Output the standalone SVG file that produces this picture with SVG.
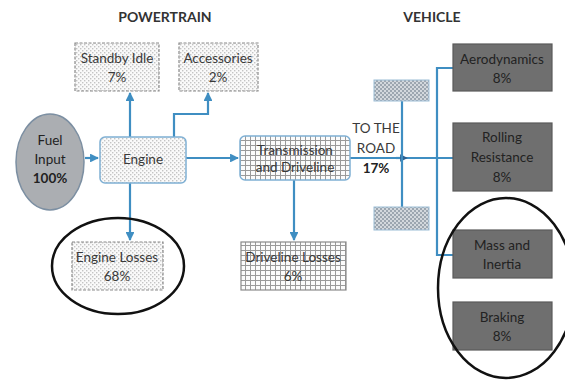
<svg xmlns="http://www.w3.org/2000/svg" width="565" height="380" viewBox="0 0 565 380">
  <style>
    .title { font-family: Lato, "Liberation Sans", sans-serif; font-size: 14px; font-weight: bold; fill: #333; text-anchor: middle; }
    .lbl { font-family: Lato, "Liberation Sans", sans-serif; font-size: 13.5px; fill: #3a3a3a; text-anchor: middle; }
    .dark { font-family: Lato, "Liberation Sans", sans-serif; font-size: 13.5px; fill: #222; text-anchor: middle; }
    .bold { font-weight: bold; }
    .conn { fill: none; stroke: #3f8ec2; stroke-width: 2.2; }
    .dotbox { fill: url(#dots); stroke: #8a8a8a; stroke-width: 1.2; stroke-dasharray: 3 1.5; }
    .gridbox { fill: url(#grid); stroke: #8a8a8a; stroke-width: 1.2; }
    .vehbox { fill: #6f6f6f; stroke: #5a5a5a; stroke-width: 1.2; }
    .brake { fill: url(#brakedots); stroke: #9cbdd6; stroke-width: 1; }
    .ring { fill: none; stroke: #111; stroke-width: 2.5; }
  </style>
  <defs>
    <pattern id="dots" width="4" height="4" patternUnits="userSpaceOnUse">
      <rect width="4" height="4" fill="#fafafa"/>
      <rect x="0" y="0" width="1.4" height="1.4" fill="#c4c4c4"/>
      <rect x="2" y="2" width="1.4" height="1.4" fill="#c4c4c4"/>
    </pattern>
    <pattern id="grid" width="5" height="5" patternUnits="userSpaceOnUse">
      <rect width="5" height="5" fill="#fbfbfb"/>
      <path d="M0 0.5H5M0.5 0V5" stroke="#9a9a9a" stroke-width="1"/>
    </pattern>
    <pattern id="brakedots" width="4" height="4" patternUnits="userSpaceOnUse">
      <rect width="4" height="4" fill="#d3d8dd"/>
      <rect x="0" y="0" width="2" height="2" fill="#9ca6b0"/>
      <rect x="2" y="2" width="2" height="2" fill="#9ca6b0"/>
    </pattern>
    <marker id="arrow" viewBox="0 0 10 10" refX="9" refY="5" markerWidth="4" markerHeight="4" orient="auto" markerUnits="strokeWidth">
      <path d="M0 0L10 5L0 10z" fill="#3f8ec2"/>
    </marker>
    <marker id="arrowDark" viewBox="0 0 10 10" refX="5" refY="5" markerWidth="3.5" markerHeight="3.5" orient="auto" markerUnits="strokeWidth">
      <path d="M0 0L10 5L0 10z" fill="#2d5f8f"/>
    </marker>
  </defs>

  <text class="title" x="165" y="22">POWERTRAIN</text>
  <text class="title" x="432" y="22">VEHICLE</text>

  <g id="connectors">
    <path class="conn" d="M85 158H98" marker-end="url(#arrow)"/>
    <path class="conn" d="M130 137V93" marker-end="url(#arrow)"/>
    <path class="conn" d="M174 137V114H208V93" marker-end="url(#arrow)"/>
    <path class="conn" d="M130 183V240" marker-end="url(#arrow)"/>
    <path class="conn" d="M186 158H238" marker-end="url(#arrow)"/>
    <path class="conn" d="M294 180V240" marker-end="url(#arrow)"/>
    <path class="conn" d="M350 158H453"/>
    <path class="conn" d="M396 158H404" marker-end="url(#arrowDark)"/>
    <path class="conn" d="M402 101V207"/>
    <path class="conn" d="M453 68H437V255H453"/>
  </g>

  <g id="fuel-input">
    <ellipse cx="50" cy="162" rx="34" ry="48" fill="#abaeb2" stroke="#7c8fa2" stroke-width="1.5"/>
    <text class="dark" x="50" y="145">Fuel</text>
    <text class="dark" x="50" y="164">Input</text>
    <text class="dark bold" x="50" y="183">100%</text>
  </g>

  <g id="standby-idle">
    <rect class="dotbox" x="75" y="43" width="84" height="48"/>
    <text class="lbl" x="117" y="63">Standby Idle</text>
    <text class="lbl" x="117" y="82">7%</text>
  </g>

  <g id="accessories">
    <rect class="dotbox" x="179" y="43" width="79" height="48"/>
    <text class="lbl" x="218" y="63">Accessories</text>
    <text class="lbl" x="218" y="82">2%</text>
  </g>

  <g id="engine">
    <rect x="100" y="137" width="86" height="46" rx="5" fill="url(#dots)" stroke="#7fb0d4" stroke-width="1.5"/>
    <text class="lbl" x="143" y="164">Engine</text>
  </g>

  <g id="transmission">
    <rect x="240" y="136" width="110" height="44" rx="5" fill="url(#grid)" stroke="#7fb0d4" stroke-width="1.5"/>
    <text class="lbl" x="295" y="155">Transmission</text>
    <text class="lbl" x="295" y="172">and Driveline</text>
  </g>

  <g id="engine-losses">
    <rect class="dotbox" x="72" y="242" width="91" height="48"/>
    <text class="lbl" x="117" y="262">Engine Losses</text>
    <text class="lbl" x="117" y="281">68%</text>
  </g>

  <g id="driveline-losses">
    <rect class="gridbox" x="241" y="242" width="105" height="48"/>
    <text class="lbl" x="293" y="262">Driveline Losses</text>
    <text class="lbl" x="293" y="281">6%</text>
  </g>

  <g id="to-the-road">
    <text class="lbl" x="376" y="133">TO THE</text>
    <text class="lbl" x="376" y="153">ROAD</text>
    <text class="lbl bold" x="376" y="173" style="fill:#222">17%</text>
  </g>

  <g id="brake-top">
    <rect class="brake" x="374" y="80" width="55" height="21"/>
  </g>
  <g id="brake-bottom">
    <rect class="brake" x="374" y="207" width="55" height="23"/>
  </g>

  <g id="aerodynamics">
    <rect class="vehbox" x="453" y="44" width="99" height="47"/>
    <text class="dark" x="502" y="64">Aerodynamics</text>
    <text class="dark" x="502" y="83">8%</text>
  </g>

  <g id="rolling-resistance">
    <rect class="vehbox" x="453" y="123" width="99" height="68"/>
    <text class="dark" x="502" y="142">Rolling</text>
    <text class="dark" x="502" y="162">Resistance</text>
    <text class="dark" x="502" y="182">8%</text>
  </g>

  <g id="mass-inertia">
    <rect class="vehbox" x="453" y="230" width="99" height="48"/>
    <text class="dark" x="502" y="250">Mass and</text>
    <text class="dark" x="502" y="269">Inertia</text>
  </g>

  <g id="braking">
    <rect class="vehbox" x="453" y="302" width="99" height="48"/>
    <text class="dark" x="502" y="322">Braking</text>
    <text class="dark" x="502" y="341">8%</text>
  </g>

  <g id="highlights">
    <ellipse class="ring" cx="118" cy="266" rx="66" ry="48"/>
    <ellipse class="ring" cx="506" cy="288" rx="68" ry="90"/>
  </g>
</svg>
